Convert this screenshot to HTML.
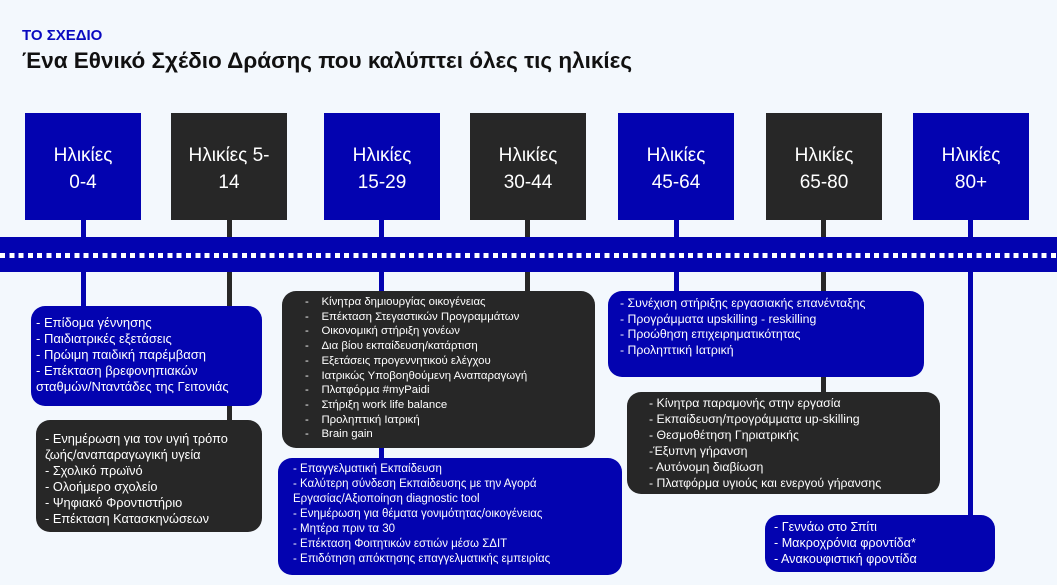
<!DOCTYPE html>
<html><head><meta charset="utf-8"><style>
body{margin:0;width:1057px;height:585px;background:#f3f8fd;position:relative;overflow:hidden;font-family:"Liberation Sans","DejaVu Sans",sans-serif}
.a{position:absolute}
.h{position:absolute;top:113px;width:116px;height:107px;color:#fff;font-size:19px;text-align:center;display:flex;align-items:center;justify-content:center;line-height:27px;padding-top:4px;box-sizing:border-box}
.b{background:#0303b0}.d{background:#272727}
.v{position:absolute;width:5px}
.box{position:absolute;border-radius:14px;color:#fff;box-sizing:border-box;font-size:11.5px}
.box div{white-space:nowrap}
</style></head><body>
<div class="a" style="left:22px;top:27px;color:#0a0ac0;font-size:15px;font-weight:bold">ΤΟ ΣΧΕΔΙΟ</div>
<div class="a" style="left:22px;top:48px;color:#111;font-size:22.5px;font-weight:bold">Ένα Εθνικό Σχέδιο Δράσης που καλύπτει όλες τις ηλικίες</div>

<div class="v b" style="left:81px;top:220px;height:90px"></div>
<div class="v d" style="left:227px;top:220px;height:205px"></div>
<div class="v b" style="left:379px;top:220px;height:240px"></div>
<div class="v d" style="left:525px;top:220px;height:75px"></div>
<div class="v b" style="left:674px;top:220px;height:75px"></div>
<div class="v d" style="left:821px;top:220px;height:175px"></div>
<div class="v b" style="left:968px;top:220px;height:298px"></div>

<div class="h b" style="left:25px">Ηλικίες<br>0-4</div>
<div class="h d" style="left:171px">Ηλικίες 5-<br>14</div>
<div class="h b" style="left:324px">Ηλικίες<br>15-29</div>
<div class="h d" style="left:470px">Ηλικίες<br>30-44</div>
<div class="h b" style="left:618px">Ηλικίες<br>45-64</div>
<div class="h d" style="left:766px">Ηλικίες<br>65-80</div>
<div class="h b" style="left:913px">Ηλικίες<br>80+</div>

<div class="a b" style="left:0;top:237px;width:1057px;height:35px"></div>
<div class="a" style="left:0;top:253px;width:1057px;height:5px;background:repeating-linear-gradient(90deg,#fff 0 5px,transparent 5px 9.3px)"></div>

<div class="box b" style="left:31px;top:306px;width:231px;height:100px;padding:9px 0 0 5px;font-size:13px;line-height:16px">
<div>- Επίδομα γέννησης</div><div>- Παιδιατρικές εξετάσεις</div><div>- Πρώιμη παιδική παρέμβαση</div><div>- Επέκταση βρεφονηπιακών</div><div>σταθμών/Νταντάδες της Γειτονιάς</div></div>

<div class="box d" style="left:36px;top:420px;width:226px;height:112px;padding:11px 0 0 9px;font-size:12.8px;line-height:16px">
<div>- Ενημέρωση για τον υγιή τρόπο</div><div>ζωής/αναπαραγωγική υγεία</div><div>- Σχολικό πρωϊνό</div><div>- Ολοήμερο σχολείο</div><div>- Ψηφιακό Φροντιστήριο</div><div>- Επέκταση Κατασκηνώσεων</div></div>

<div class="box d" style="left:282px;top:291px;width:313px;height:157px;padding:4px 0 0 23px;font-size:11.4px;line-height:14.7px">
<div>-&nbsp;&nbsp;&nbsp;&nbsp;Κίνητρα δημιουργίας οικογένειας</div><div>-&nbsp;&nbsp;&nbsp;&nbsp;Επέκταση Στεγαστικών Προγραμμάτων</div><div>-&nbsp;&nbsp;&nbsp;&nbsp;Οικονομική στήριξη γονέων</div><div>-&nbsp;&nbsp;&nbsp;&nbsp;Δια βίου εκπαίδευση/κατάρτιση</div><div>-&nbsp;&nbsp;&nbsp;&nbsp;Εξετάσεις προγεννητικού ελέγχου</div><div>-&nbsp;&nbsp;&nbsp;&nbsp;Ιατρικώς Υποβοηθούμενη Αναπαραγωγή</div><div>-&nbsp;&nbsp;&nbsp;&nbsp;Πλατφόρμα #myPaidi</div><div>-&nbsp;&nbsp;&nbsp;&nbsp;Στήριξη work life balance</div><div>-&nbsp;&nbsp;&nbsp;&nbsp;Προληπτική Ιατρική</div><div>-&nbsp;&nbsp;&nbsp;&nbsp;Brain gain</div></div>

<div class="box b" style="left:278px;top:458px;width:344px;height:117px;padding:4px 0 0 15px;font-size:11.5px;line-height:15px">
<div>- Επαγγελματική Εκπαίδευση</div><div>- Καλύτερη σύνδεση Εκπαίδευσης με την Αγορά</div><div>Εργασίας/Αξιοποίηση diagnostic tool</div><div>- Ενημέρωση για θέματα γονιμότητας/οικογένειας</div><div>- Μητέρα πριν τα 30</div><div>- Επέκταση Φοιτητικών εστιών μέσω ΣΔΙΤ</div><div>- Επιδότηση απόκτησης επαγγελματικής εμπειρίας</div></div>

<div class="box b" style="left:608px;top:291px;width:316px;height:86px;padding:5px 0 0 12px;font-size:12.3px;line-height:15.5px">
<div>- Συνέχιση στήριξης εργασιακής επανένταξης</div><div>- Προγράμματα upskilling - reskilling</div><div>- Προώθηση επιχειρηματικότητας</div><div>- Προληπτική Ιατρική</div></div>

<div class="box d" style="left:627px;top:392px;width:313px;height:102px;padding:3px 0 0 22px;font-size:12.3px;line-height:16px">
<div>- Κίνητρα παραμονής στην εργασία</div><div>- Εκπαίδευση/προγράμματα up-skilling</div><div>- Θεσμοθέτηση Γηριατρικής</div><div>-Έξυπνη γήρανση</div><div>- Αυτόνομη διαβίωση</div><div>- Πλατφόρμα υγιούς και ενεργού γήρανσης</div></div>

<div class="box b" style="left:765px;top:515px;width:230px;height:57px;padding:4px 0 0 9px;font-size:12.6px;line-height:16px">
<div>- Γεννάω στο Σπίτι</div><div>- Μακροχρόνια φροντίδα*</div><div>- Ανακουφιστική φροντίδα</div></div>
</body></html>
